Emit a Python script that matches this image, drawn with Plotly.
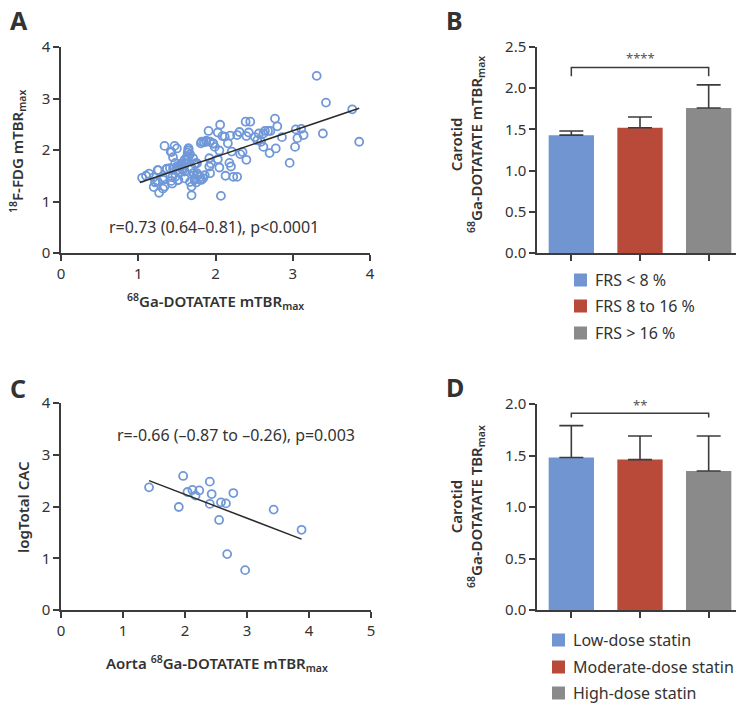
import plotly.graph_objects as go

W, H = 744, 703
OFF = 8  # page body margin around the plot div

# ---- Panel A: 68Ga-DOTATATE vs 18F-FDG mTBRmax
ga_a = [1.05, 1.10, 1.14, 1.20, 1.22, 1.20, 1.25, 1.25, 1.27, 1.32, 1.34, 1.32, 1.34, 1.37,
        1.41, 1.43, 1.44, 1.45, 1.47, 1.48, 1.48, 1.51, 1.50, 1.53, 1.54, 1.57, 1.58, 1.60,
        1.61, 1.56, 1.63, 1.65, 1.65, 1.67, 1.65, 1.69, 1.69, 1.69, 1.71, 1.73, 1.72, 1.73,
        1.75, 1.75, 1.77, 1.80, 1.84, 1.81, 1.85, 1.88, 1.91, 1.92, 1.92, 1.93, 1.94, 1.97,
        1.99, 2.03, 2.05, 2.03, 2.05, 2.06, 2.07, 2.09, 2.12, 2.13, 2.16, 2.18, 2.19, 2.20,
        2.21, 2.23, 2.28, 2.28, 2.31, 2.32, 2.35, 2.39, 2.40, 2.40, 2.43, 2.45, 2.51, 2.54,
        2.56, 2.59, 2.62, 2.62, 2.64, 2.68, 2.70, 2.71, 2.77, 2.78, 2.80, 2.86, 2.96, 3.03,
        3.04, 3.06, 3.11, 3.14, 3.31, 3.39, 3.43, 3.77, 3.86,
        1.50, 1.42, 1.65, 1.64, 1.63, 1.60, 1.55, 1.50, 1.45, 1.37, 1.26, 1.58, 1.53, 1.69,
        1.71, 1.76, 1.76, 1.73, 1.80, 1.82, 1.86, 1.82, 1.88, 1.93, 1.97, 1.44, 1.32, 1.22,
        1.43, 1.52, 1.60, 1.67]
fdg_a = [1.46, 1.50, 1.54, 1.47, 1.37, 1.28, 1.61, 1.39, 1.17, 1.42, 1.29, 1.25, 2.08, 1.63,
         1.65, 1.96, 1.35, 1.86, 2.08, 1.75, 1.48, 1.41, 1.61, 1.68, 1.56, 1.64, 1.70, 1.58,
         1.75, 1.74, 1.81, 2.03, 1.99, 1.92, 1.87, 1.65, 1.29, 1.12, 1.84, 1.73, 1.55, 1.42,
         1.75, 1.37, 1.51, 1.42, 1.45, 2.13, 2.15, 2.16, 2.37, 1.84, 1.68, 1.55, 1.74, 2.12,
         2.06, 2.34, 1.99, 1.82, 1.66, 2.49, 1.11, 2.27, 2.26, 1.50, 2.13, 1.75, 2.28, 1.68,
         1.97, 1.48, 1.48, 2.29, 2.35, 1.92, 1.96, 2.55, 1.81, 2.27, 2.34, 2.55, 2.25, 2.19,
         2.32, 2.16, 2.06, 2.32, 2.37, 2.37, 1.94, 2.37, 2.61, 2.03, 2.46, 2.25, 1.75, 2.06,
         2.40, 2.23, 2.41, 2.29, 3.44, 2.32, 2.92, 2.79, 2.16,
         2.03, 1.97, 2.03, 1.95, 1.87, 1.81, 1.73, 1.68, 1.64, 1.64, 1.61, 1.61, 1.56, 1.64,
         1.55, 1.74, 1.55, 1.45, 1.48, 1.42, 1.51, 2.16, 2.18, 2.16, 2.13, 1.47, 1.47, 1.38,
         1.40, 1.42, 1.45, 1.38]
fit_a_x = [1.02, 3.86]
fit_a_y = [1.37, 2.81]

# ---- Panel C: aorta 68Ga-DOTATATE vs log total CAC
ga_c = [1.42, 1.97, 1.90, 2.04, 2.12, 2.23, 2.17, 2.40, 2.43, 2.40, 2.58, 2.66, 2.78, 2.55,
        2.68, 2.97, 3.43, 3.88]
cac_c = [2.37, 2.59, 1.99, 2.28, 2.32, 2.31, 2.21, 2.48, 2.24, 2.05, 2.08, 2.06, 2.26, 1.74,
         1.08, 0.77, 1.94, 1.55]
fit_c_x = [1.42, 3.88]
fit_c_y = [2.50, 1.37]

# ---- Panel B: by Framingham risk score
frs_groups = ["FRS < 8 %", "FRS 8 to 16 %", "FRS > 16 %"]
frs_mean = [1.43, 1.52, 1.76]
frs_err = [0.05, 0.13, 0.28]

# ---- Panel D: by statin dose
statin_groups = ["Low-dose statin", "Moderate-dose statin", "High-dose statin"]
statin_mean = [1.48, 1.46, 1.35]
statin_err = [0.31, 0.23, 0.34]

bar_colors = ["#7195d0", "#b94a39", "#8a8a8a"]
point_color = "#7098d8"
ink = "#3c3c3c"
FONT = "Noto Sans"


def px(x):
    return (x - OFF) / W


def py(y):
    return 1 - (y - OFF) / H


fig = go.Figure()

# scatter panels
fig.add_trace(go.Scatter(x=ga_a, y=fdg_a, mode="markers", xaxis="x", yaxis="y",
                         marker=dict(symbol="circle-open", size=8, color=point_color,
                                     line=dict(width=1.8, color=point_color)),
                         showlegend=False, cliponaxis=False))
fig.add_trace(go.Scatter(x=fit_a_x, y=fit_a_y, mode="lines", xaxis="x", yaxis="y",
                         line=dict(color="#2b2b2b", width=1.5), showlegend=False))
fig.add_trace(go.Scatter(x=ga_c, y=cac_c, mode="markers", xaxis="x3", yaxis="y3",
                         marker=dict(symbol="circle-open", size=8, color=point_color,
                                     line=dict(width=1.8, color=point_color)),
                         showlegend=False, cliponaxis=False))
fig.add_trace(go.Scatter(x=fit_c_x, y=fit_c_y, mode="lines", xaxis="x3", yaxis="y3",
                         line=dict(color="#2b2b2b", width=1.5), showlegend=False))

# bar panels
err_style = dict(type="data", symmetric=False, color=ink, thickness=1.6, width=12)
for i, (g, m, e) in enumerate(zip(frs_groups, frs_mean, frs_err)):
    fig.add_trace(go.Bar(x=[i], y=[m], name=g, xaxis="x2", yaxis="y2", width=0.66,
                         marker=dict(color=bar_colors[i], line=dict(width=0)),
                         error_y=dict(array=[e], arrayminus=[0], **err_style),
                         showlegend=False))
for i, (g, m, e) in enumerate(zip(statin_groups, statin_mean, statin_err)):
    fig.add_trace(go.Bar(x=[i], y=[m], name=g, xaxis="x4", yaxis="y4", width=0.66,
                         marker=dict(color=bar_colors[i], line=dict(width=0)),
                         error_y=dict(array=[e], arrayminus=[0], **err_style),
                         showlegend=False))

axis_style = dict(showline=True, linecolor=ink, linewidth=1.5, ticks="outside", ticklen=6,
                  tickwidth=1.5, tickcolor=ink, showgrid=False, zeroline=False,
                  automargin=False, tickfont=dict(family=FONT, size=15, color="#333333"))

fig.update_layout(
    width=W, height=H, margin=dict(l=0, r=0, t=0, b=0, autoexpand=False),
    paper_bgcolor="white", plot_bgcolor="white", barmode="overlay", showlegend=False,
    font=dict(family=FONT, color="#333333"),
    xaxis=dict(domain=[px(61), px(370)], range=[0, 4], dtick=1, anchor="y", **axis_style),
    yaxis=dict(domain=[py(253), py(47)], range=[0, 4], dtick=1, anchor="x", **axis_style),
    xaxis2=dict(domain=[px(537), px(743)], range=[-0.5, 2.5], tickvals=[0, 1, 2],
                showticklabels=False, anchor="y2", **axis_style),
    yaxis2=dict(domain=[py(253), py(47)], range=[0, 2.5], dtick=0.5, tickformat=".1f",
                anchor="x2", **axis_style),
    xaxis3=dict(domain=[px(61), px(371)], range=[0, 5], dtick=1, anchor="y3", **axis_style),
    yaxis3=dict(domain=[py(610), py(403)], range=[0, 4], dtick=1, anchor="x3", **axis_style),
    xaxis4=dict(domain=[px(537), px(743)], range=[-0.5, 2.5], tickvals=[0, 1, 2],
                showticklabels=False, anchor="y4", **axis_style),
    yaxis4=dict(domain=[py(610), py(404)], range=[0, 2.0], dtick=0.5, tickformat=".1f",
                anchor="x4", **axis_style),
)

# significance brackets
fig.add_shape(type="path", xref="x2", yref="y2", path="M0,2.145 L0,2.25 L2,2.25 L2,2.145",
              line=dict(color=ink, width=1.5))
fig.add_shape(type="path", xref="x4", yref="y4", path="M0,1.87 L0,1.91 L2,1.91 L2,1.87",
              line=dict(color=ink, width=1.5))

ann = []
# legends (square key + label) under the bar panels
for groups, x0, rows in [(frs_groups, 574, [280, 306, 333]),
                         (statin_groups, 552, [640, 667, 693])]:
    for i, (g, yc) in enumerate(zip(groups, rows)):
        fig.add_shape(type="rect", xref="paper", yref="paper", x0=px(x0), x1=px(x0 + 13),
                      y0=py(yc + 6.5), y1=py(yc - 6.5), fillcolor=bar_colors[i],
                      line=dict(width=0))
        ann.append(dict(text=g, x=px(x0 + 19), y=py(yc), xanchor="left",
                        font=dict(size=16, color="#333333")))

# panel letters
for letter, x, y in [("A", 8, 20), ("B", 444, 20), ("C", 8, 388), ("D", 444, 387)]:
    ann.append(dict(text=letter, x=px(x), y=py(y), xanchor="left",
                    font=dict(size=25, color="#333333", family=FONT, weight="bold")))
# statistics
ann.append(dict(text="r=0.73 (0.64–0.81), p<0.0001", x=px(214), y=py(227),
                font=dict(size=16)))
ann.append(dict(text="r=-0.66 (–0.87 to –0.26), p=0.003", x=px(236), y=py(435),
                font=dict(size=16)))
ann.append(dict(text="****", x=px(640), y=py(58), font=dict(size=13, color="#555555")))
ann.append(dict(text="**", x=px(640), y=py(405), font=dict(size=13, color="#555555")))
# axis titles
title_font = dict(size=15, color="#333333", weight=600)
ann.append(dict(text="<sup>68</sup>Ga-DOTATATE mTBR<sub>max</sub>", x=px(216), y=py(301),
                font=title_font))
ann.append(dict(text="<sup>18</sup>F-FDG mTBR<sub>max</sub>", x=px(18), y=py(152),
                textangle=-90, font=title_font))
ann.append(dict(text="Aorta <sup>68</sup>Ga-DOTATATE mTBR<sub>max</sub>", x=px(217), y=py(663),
                font=title_font))
ann.append(dict(text="logTotal CAC", x=px(23), y=py(507), textangle=-90, font=title_font))
ann.append(dict(text="Carotid<br><sup>68</sup>Ga-DOTATATE mTBR<sub>max</sub>", x=px(467),
                y=py(145), textangle=-90, font=title_font))
ann.append(dict(text="Carotid<br><sup>68</sup>Ga-DOTATATE TBR<sub>max</sub>", x=px(467),
                y=py(507), textangle=-90, font=title_font))

for a in ann:
    a.setdefault("xref", "paper")
    a.setdefault("yref", "paper")
    a.setdefault("xanchor", "center")
    a.setdefault("yanchor", "middle")
    a["showarrow"] = False
fig.update_layout(annotations=ann)

fig.write_html("out.html")
